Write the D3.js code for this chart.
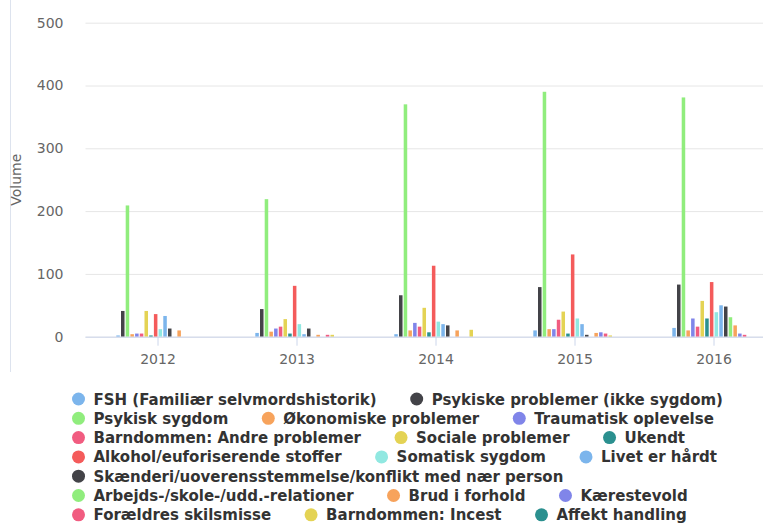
<!DOCTYPE html>
<html>
<head>
<meta charset="utf-8">
<script src="https://cdn.jsdelivr.net/npm/d3@7"></script>
<style>
  body { margin: 0; background: #fff; }
  svg { display: block; font-family: "DejaVu Sans", sans-serif; }
</style>
</head>
<body>
<div id="chart"></div>
<script>
var years = ["2012", "2013", "2014", "2015", "2016"];

var seriesNames = [
    "FSH (Familiær selvmordshistorik)", "Psykiske problemer (ikke sygdom)",
    "Psykisk sygdom", "Økonomiske problemer", "Traumatisk oplevelse",
    "Barndommen: Andre problemer", "Sociale problemer", "Ukendt",
    "Alkohol/euforiserende stoffer", "Somatisk sygdom", "Livet er hårdt",
    "Skænderi/uoverensstemmelse/konflikt med nær person",
    "Arbejds-/skole-/udd.-relationer", "Brud i forhold", "Kærestevold",
    "Forældres skilsmisse", "Barndommen: Incest", "Affekt handling"
];

var palette = ["#7cb5ec", "#434348", "#90ed7d", "#f7a35c", "#8085e9",
               "#f15c80", "#e4d354", "#2b908f", "#f45b5b", "#91e8e1"];

// one value per series, in seriesNames order
var v2012 = [2, 41, 209, 4, 5, 5, 41, 2, 36, 12, 33, 13, 0, 10, 0, 0, 0, 0];
var v2013 = [6, 44, 219, 8, 13, 16, 28, 5, 81, 20, 4, 13, 0, 3, 0, 3, 3, 0];
var v2014 = [4, 66, 370, 10, 22, 16, 46, 7, 113, 24, 20, 18, 0, 10, 0, 0, 11, 0];
var v2015 = [10, 79, 390, 12, 12, 27, 40, 5, 131, 29, 20, 3, 0, 6, 7, 5, 2, 0];
var v2016 = [14, 83, 381, 10, 29, 16, 57, 29, 87, 39, 50, 48, 31, 18, 5, 3, 0, 0];

var yTicks = [0, 100, 200, 300, 400, 500];

// legend rows (series indices)
var legendRows = [[0, 1], [2, 3, 4], [5, 6, 7], [8, 9, 10], [11], [12, 13, 14], [15, 16, 17]];

var valuesByYear = [v2012, v2013, v2014, v2015, v2016];
var data = years.map(function(y, i) {
    return {year: y, values: valuesByYear[i].map(function(v, s) { return {s: s, v: v}; })};
});

var width = 763, height = 524;
var plotLeft = 88.5, plotRight = 783.5, plotTop = 22.7, plotBottom = 336.7;

var svg = d3.select("#chart").append("svg")
    .attr("width", width)
    .attr("height", height);

var x0 = d3.scaleBand().domain(years).range([plotLeft, plotRight]).padding(0);
var x1 = d3.scaleBand().domain(d3.range(seriesNames.length))
    .range([x0.bandwidth() * 0.2, x0.bandwidth() * 0.8]).paddingInner(0.25);
var y = d3.scaleLinear().domain([0, 500]).range([plotBottom, plotTop]);

function color(s) { return palette[s % palette.length]; }

// left border line
svg.append("line")
    .attr("x1", 10.5).attr("x2", 10.5).attr("y1", 0).attr("y2", 372)
    .style("stroke", "#dde3ee").style("stroke-width", 1);

// grid + y labels
var yAxis = svg.append("g")
    .attr("transform", "translate(" + (plotLeft - 3) + ",0)")
    .call(d3.axisLeft(y).tickValues(yTicks).tickSize(-(width - plotLeft + 3)).tickPadding(22));
yAxis.select(".domain").remove();
yAxis.selectAll(".tick line").style("stroke", "#e6e6e6");
yAxis.selectAll(".tick text")
    .attr("font-size", 14).attr("fill", "#666").attr("font-family", "DejaVu Sans");

svg.append("text")
    .attr("transform", "translate(21," + ((plotTop + plotBottom) / 2) + ") rotate(-90)")
    .attr("text-anchor", "middle")
    .attr("font-size", 14)
    .attr("fill", "#666")
    .text("Volume");

// bars
var groups = svg.selectAll(".grp")
    .data(data)
    .enter().append("g")
    .attr("class", "grp")
    .attr("transform", function(d) { return "translate(" + x0(d.year) + ",0)"; });

groups.selectAll("rect")
    .data(function(d) { return d.values; })
    .enter().append("rect")
    .attr("x", function(d) { return x1(d.s); })
    .attr("y", function(d) { return y(d.v); })
    .attr("width", x1.bandwidth())
    .attr("height", function(d) { return plotBottom - y(d.v); })
    .style("fill", function(d) { return color(d.s); });

// x axis
var xAxis = svg.append("g")
    .attr("transform", "translate(0," + plotBottom + ")")
    .call(d3.axisBottom(x0).tickSize(9).tickPadding(8));
xAxis.select(".domain").attr("d", "M" + (plotLeft - 3) + ",0.5H" + width).style("stroke", "#ccd6eb");
xAxis.selectAll(".tick line").style("stroke", "#ccd6eb");
xAxis.selectAll(".tick text")
    .attr("font-size", 14).attr("fill", "#666").attr("font-family", "DejaVu Sans");

// legend
var legend = svg.append("g").attr("class", "legend");
legendRows.forEach(function(row, r) {
    var cy = 399 + r * 19.3;
    var cx = 78.5;
    row.forEach(function(s) {
        legend.append("circle")
            .attr("cx", cx).attr("cy", cy).attr("r", 6.5)
            .style("fill", color(s));
        var t = legend.append("text")
            .attr("x", cx + 15).attr("y", cy + 5.5)
            .attr("font-size", 15)
            .attr("font-weight", "bold")
            .attr("fill", "#333")
            .text(seriesNames[s]);
        cx = cx + 15 + t.node().getComputedTextLength() + 40;
    });
});
</script>
</body>
</html>
